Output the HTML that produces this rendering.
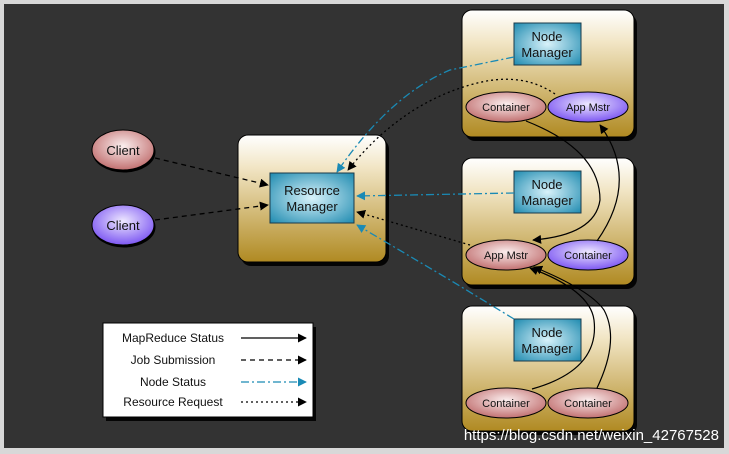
<!DOCTYPE html>
<html><head><style>
html,body{margin:0;padding:0;background:#d8d8d8;}
svg{display:block;}
text{font-family:"Liberation Sans",sans-serif;}
</style></head><body>
<svg width="729" height="454" viewBox="0 0 729 454" xmlns="http://www.w3.org/2000/svg">
<defs>
<linearGradient id="box" x1="0" y1="0" x2="0" y2="1">
<stop offset="0" stop-color="#ffffff"/><stop offset="0.25" stop-color="#f2e6c6"/><stop offset="1" stop-color="#b08a22"/></linearGradient>
<radialGradient id="blue" cx="0.5" cy="0.5" r="0.7"><stop offset="0" stop-color="#d8f2fa"/><stop offset="1" stop-color="#1f8bb0"/></radialGradient>
<radialGradient id="red" cx="0.5" cy="0.4" r="0.7"><stop offset="0" stop-color="#fbeeee"/><stop offset="1" stop-color="#b85c5c"/></radialGradient>
<radialGradient id="pur" cx="0.5" cy="0.4" r="0.7"><stop offset="0" stop-color="#eee8ff"/><stop offset="1" stop-color="#6a3ff0"/></radialGradient>
<marker id="ah" viewBox="0 0 10 10" refX="9" refY="5" markerWidth="9" markerHeight="9" orient="auto" markerUnits="userSpaceOnUse"><path d="M0,0 L10,5 L0,10z" fill="#000"/></marker>
<marker id="ahb" viewBox="0 0 10 10" refX="9" refY="5" markerWidth="9" markerHeight="9" orient="auto" markerUnits="userSpaceOnUse"><path d="M0,0 L10,5 L0,10z" fill="#1a8ab5"/></marker>
</defs>
<rect x="4" y="4" width="720" height="444" fill="#333333"/>
<!-- boxes with shadows -->
<g fill="#000" opacity="0.9">
<rect x="241" y="139" width="148" height="127" rx="10"/>
<rect x="465" y="14" width="172" height="127" rx="10"/>
<rect x="465" y="162" width="172" height="127" rx="10"/>
<rect x="465" y="310" width="172" height="125" rx="10"/>
<rect x="106" y="327" width="210" height="94"/>
</g>
<g fill="url(#box)" stroke="#000" stroke-width="1">
<rect x="238" y="135" width="148" height="127" rx="10"/>
<rect x="462" y="10" width="172" height="127" rx="10"/>
<rect x="462" y="158" width="172" height="127" rx="10"/>
<rect x="462" y="306" width="172" height="125" rx="10"/>
</g>
<!-- blue rects -->
<g fill="url(#blue)" stroke="#1a3a4a">
<rect x="270" y="173" width="84" height="50"/>
<rect x="514" y="23" width="67" height="42"/>
<rect x="514" y="171" width="67" height="42"/>
<rect x="514" y="319" width="67" height="42"/>
</g>
<g font-size="13" fill="#111" text-anchor="middle">
<text x="312" y="195">Resource</text><text x="312" y="211">Manager</text>
<text x="547" y="41">Node</text><text x="547" y="57">Manager</text>
<text x="547" y="189">Node</text><text x="547" y="205">Manager</text>
<text x="547" y="337">Node</text><text x="547" y="353">Manager</text>
</g>
<!-- ellipses -->
<g stroke="#000">
<ellipse cx="124" cy="152" rx="31" ry="20" fill="#000"/>
<ellipse cx="123" cy="150" rx="31" ry="20" fill="url(#red)"/>
<ellipse cx="124" cy="227" rx="31" ry="20" fill="#000"/>
<ellipse cx="123" cy="225" rx="31" ry="20" fill="url(#pur)"/>
<ellipse cx="506" cy="107" rx="40" ry="15" fill="url(#red)"/>
<ellipse cx="588" cy="107" rx="40" ry="15" fill="url(#pur)"/>
<ellipse cx="506" cy="255" rx="40" ry="15" fill="url(#red)"/>
<ellipse cx="588" cy="255" rx="40" ry="15" fill="url(#pur)"/>
<ellipse cx="506" cy="403" rx="40" ry="15" fill="url(#red)"/>
<ellipse cx="588" cy="403" rx="40" ry="15" fill="url(#red)"/>
</g>
<g font-size="13" fill="#111" text-anchor="middle">
<text x="123" y="155">Client</text><text x="123" y="230">Client</text>
</g>
<g font-size="11" fill="#111" text-anchor="middle">
<text x="506" y="111">Container</text><text x="588" y="111">App Mstr</text>
<text x="506" y="259">App Mstr</text><text x="588" y="259">Container</text>
<text x="506" y="407">Container</text><text x="588" y="407">Container</text>
</g>
<!-- job submission -->
<g stroke="#000" stroke-width="1.3" stroke-dasharray="5,4" fill="none" marker-end="url(#ah)">
<line x1="155" y1="158" x2="268" y2="185"/>
<line x1="155" y1="220" x2="268" y2="205"/>
</g>
<!-- node status -->
<g stroke="#1a8ab5" stroke-width="1.3" stroke-dasharray="8,3,2,3" fill="none" marker-end="url(#ahb)">
<path d="M514,57 L450,70 Q390,95 337,172"/>
<line x1="514" y1="193" x2="357" y2="196"/>
<path d="M514,319 L450,280 L357,225"/>
</g>
<!-- resource request -->
<g stroke="#000" stroke-width="1.3" stroke-dasharray="2,3" fill="none" marker-end="url(#ah)">
<path d="M555,94 Q520,70 470,85 Q400,105 348,170"/>
<path d="M470,245 L357,212"/>
</g>
<!-- mapreduce status -->
<g stroke="#000" stroke-width="1.2" fill="none" marker-end="url(#ah)">
<path d="M526,121 Q600,150 600,200 Q595,235 533,240"/>
<path d="M597,241 Q640,180 600,125"/>
<path d="M532,389 Q600,370 594,320 Q590,290 530,268"/>
<path d="M597,388 Q620,340 604,310 Q590,290 534,267"/>
</g>
<!-- legend -->
<rect x="103" y="323" width="210" height="94" fill="#fff" stroke="#000"/>
<g font-size="12" fill="#111" text-anchor="middle">
<text x="173" y="342">MapReduce Status</text>
<text x="173" y="364">Job Submission</text>
<text x="173" y="386">Node Status</text>
<text x="173" y="406">Resource Request</text>
</g>
<line x1="241" y1="338" x2="306" y2="338" stroke="#000" stroke-width="1.2" marker-end="url(#ah)"/>
<line x1="241" y1="360" x2="306" y2="360" stroke="#000" stroke-width="1.2" stroke-dasharray="5,4" marker-end="url(#ah)"/>
<line x1="241" y1="382" x2="306" y2="382" stroke="#1a8ab5" stroke-width="1.2" stroke-dasharray="8,3,2,3" marker-end="url(#ahb)"/>
<line x1="241" y1="402" x2="306" y2="402" stroke="#000" stroke-width="1.2" stroke-dasharray="2,3" marker-end="url(#ah)"/>
<text x="719" y="440" font-size="15" fill="#fff" text-anchor="end">https://blog.csdn.net/weixin_42767528</text>
</svg>
</body></html>
